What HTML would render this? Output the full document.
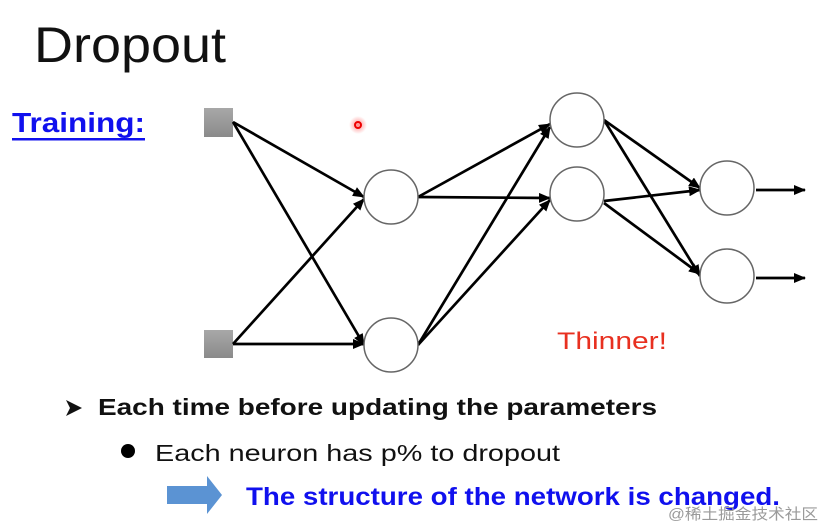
<!DOCTYPE html>
<html><head><meta charset="utf-8"><style>
html,body{margin:0;padding:0;background:#fff;}
svg{display:block;}
</style></head><body>
<svg width="824" height="528" viewBox="0 0 824 528" xmlns="http://www.w3.org/2000/svg" font-family="Liberation Sans, sans-serif">
<defs>
<marker id="a" markerWidth="12" markerHeight="10" refX="11" refY="5" orient="auto" markerUnits="userSpaceOnUse">
<path d="M0,0 L12,5 L0,10 z" fill="#000"/></marker>
<linearGradient id="g" x1="0" y1="0" x2="0" y2="1"><stop offset="0" stop-color="#a8a8a8"/><stop offset="1" stop-color="#8a8a8a"/></linearGradient>
<radialGradient id="r"><stop offset="0" stop-color="#ff4040" stop-opacity="0.6"/><stop offset="1" stop-color="#ff4040" stop-opacity="0"/></radialGradient>
</defs>
<text x="34" y="62" font-size="50" textLength="192" lengthAdjust="spacingAndGlyphs" fill="#111">Dropout</text>
<text x="12" y="132" font-size="28" font-weight="bold" fill="#1010ee" textLength="133" lengthAdjust="spacingAndGlyphs">Training:</text>
<rect x="12" y="138" width="133" height="2.5" fill="#1010ee"/>
<circle cx="358" cy="125" r="9" fill="url(#r)"/>
<circle cx="358" cy="125" r="3" fill="none" stroke="#e00" stroke-width="2"/>
<rect x="204" y="108" width="29" height="29" fill="url(#g)"/>
<rect x="204" y="330" width="29" height="28" fill="url(#g)"/>
<g stroke="#000" stroke-width="2.7" marker-end="url(#a)">
<line x1="233" y1="122" x2="364" y2="197"/>
<line x1="233" y1="122" x2="364" y2="345"/>
<line x1="233" y1="344" x2="364" y2="199"/>
<line x1="233" y1="344" x2="364" y2="344"/>
<line x1="418" y1="197" x2="550" y2="124"/>
<line x1="418" y1="197" x2="550" y2="198"/>
<line x1="418" y1="345" x2="550" y2="127"/>
<line x1="418" y1="345" x2="550" y2="200"/>
<line x1="604" y1="120" x2="700" y2="188"/>
<line x1="604" y1="120" x2="700" y2="276"/>
<line x1="604" y1="201" x2="700" y2="190"/>
<line x1="604" y1="203" x2="700" y2="274"/>
<line x1="756" y1="190" x2="805" y2="190"/>
<line x1="756" y1="278" x2="805" y2="278"/>
</g>
<g fill="#fff" stroke="#666" stroke-width="1.5">
<circle cx="391" cy="197" r="27"/>
<circle cx="391" cy="345" r="27"/>
<circle cx="577" cy="120" r="27"/>
<circle cx="577" cy="194" r="27"/>
<circle cx="727" cy="188" r="27"/>
<circle cx="727" cy="276" r="27"/>
</g>
<text x="557" y="349" font-size="24" fill="#e83020" textLength="110" lengthAdjust="spacingAndGlyphs">Thinner!</text>
<path d="M66,400 L82,408 L66,416 L70,408 z" fill="#111"/>
<text x="98" y="415" font-size="23" font-weight="bold" fill="#111" textLength="559" lengthAdjust="spacingAndGlyphs">Each time before updating the parameters</text>
<circle cx="128" cy="451" r="7" fill="#000"/>
<text x="155" y="461" font-size="23" fill="#111" textLength="405" lengthAdjust="spacingAndGlyphs">Each neuron has p% to dropout</text>
<rect x="167" y="486" width="41" height="18" fill="#5b93d3"/>
<path d="M207,476 L222,495 L207,514 z" fill="#5b93d3"/>
<text x="246" y="505" font-size="25" font-weight="bold" fill="#1010ee" textLength="534" lengthAdjust="spacingAndGlyphs">The structure of the network is changed.</text>
<text x="668" y="519" font-size="15" fill="#9a9a9a" font-family="Liberation Sans, Noto Sans CJK SC, sans-serif" textLength="150" lengthAdjust="spacingAndGlyphs">@稀土掘金技术社区</text>
</svg>
</body></html>
